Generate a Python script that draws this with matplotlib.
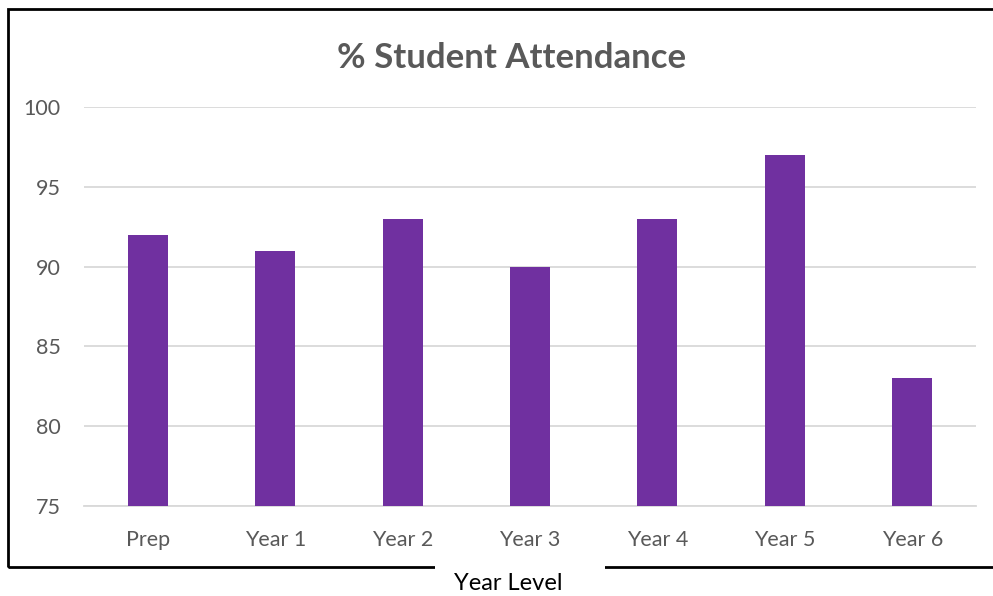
import matplotlib.pyplot as plt
from matplotlib.patches import Rectangle

# attendance per year level
year_levels = ["Prep", "Year 1", "Year 2", "Year 3", "Year 4", "Year 5", "Year 6"]
attendance = [92, 91, 93, 90, 93, 97, 83]
y_ticks = [75, 80, 85, 90, 95, 100]

plt.rcParams['font.family'] = ['Lato', 'DejaVu Sans']

W, H = 993, 596
fig = plt.figure(figsize=(W / 100, H / 100), dpi=100)
fig.patch.set_facecolor("white")

# outer frame around the chart (runs off the right edge)
frame = Rectangle((8 / W, 1 - 567 / H), 1.0, (567 - 9) / H,
                  transform=fig.transFigure, fill=False,
                  edgecolor="black", linewidth=2, zorder=0)
fig.patches.append(frame)

ax = fig.add_axes([84 / W, 1 - 506 / H, (976 - 84) / W, (506 - 107) / H])
x = range(len(year_levels))
ax.bar(x, attendance, width=0.315, color="#7030A0", zorder=3)

ax.set_xlim(-0.5, len(year_levels) - 0.5)
ax.set_ylim(75, 100)
ax.set_yticks(y_ticks)
ax.set_xticks(list(x))
ax.set_xticklabels(year_levels)
ax.yaxis.grid(True, color="#D9D9D9", linewidth=1.3, zorder=0)
ax.set_axisbelow(True)
for s in ax.spines.values():
    s.set_visible(False)
ax.spines["bottom"].set_visible(True)
ax.spines["bottom"].set_color("#D9D9D9")
ax.spines["bottom"].set_linewidth(1.3)
ax.tick_params(axis="both", length=0, labelsize=15.5, colors="#595959")
ax.tick_params(axis="x", pad=17)
ax.tick_params(axis="y", pad=17)

fig.text(512 / W, 1 - 58 / H, "% Student Attendance", ha="center", va="center",
         fontsize=25, fontweight="bold", color="#595959")

# axis title sits on top of the frame's bottom edge
fig.patches.append(Rectangle((435 / W, 0), (605 - 435) / W, 1 - 560 / H,
                             transform=fig.transFigure, facecolor="white",
                             edgecolor="none", zorder=1))
fig.text(508 / W, 1 - 584 / H, "Year Level", ha="center", va="center",
         fontsize=17, color="black", zorder=5)

fig.savefig("out.png", dpi=100)
